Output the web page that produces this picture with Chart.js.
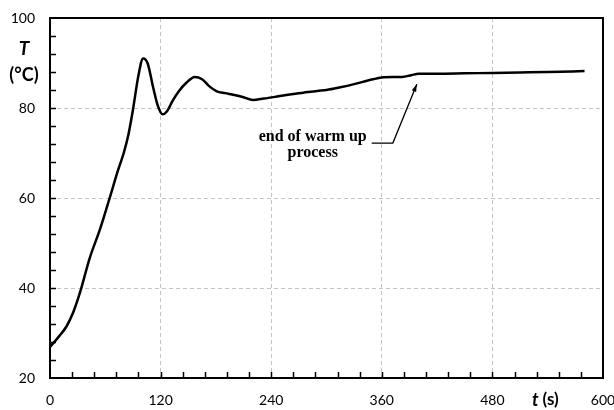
<!DOCTYPE html>
<html>
<head>
<meta charset="utf-8">
<script src="https://cdn.jsdelivr.net/npm/chart.js@4"></script>
<style>
  html, body { margin: 0; padding: 0; background: #fff; }
  #wrap { width: 614px; height: 410px; }
</style>
</head>
<body>
<div id="wrap"><canvas id="chart" width="614" height="410"></canvas></div>
<script>
// time (s) and temperature (°C)
const times = [0, 10, 18, 25, 33, 43, 54, 64, 74, 80, 85, 90, 96, 101, 106, 112, 117, 122, 127,
  133, 140, 148, 157, 165, 173, 181, 190, 200, 210, 220, 232, 245, 260, 275, 290, 300, 315,
  330, 345, 360, 372, 382, 392, 400, 420, 450, 480, 510, 540, 580];
const temps = [26.9, 29.3, 31.5, 34.5, 39.3, 46.6, 52.9, 59.5, 66.3, 70.0, 74.0, 79.6, 87.3, 91.0,
  89.9, 84.5, 80.5, 78.6, 79.3, 81.6, 83.8, 85.6, 86.9, 86.4, 84.8, 83.7, 83.3, 82.9, 82.4, 81.8,
  82.1, 82.5, 83.0, 83.4, 83.8, 84.0, 84.6, 85.3, 86.1, 86.8, 86.9, 86.9, 87.3, 87.6, 87.6, 87.7,
  87.8, 87.9, 88.0, 88.2];

const xTickLabels = [0, 120, 240, 360, 480, 600];
const yTickLabels = [20, 40, 60, 80, 100];

// annotation: text and arrow, in data units
const noteLines = ['end of warm up', 'process'];
const noteAt = { t: 285, T: 73.6 };
const arrowPath = [{ t: 349, T: 72.2 }, { t: 372, T: 72.2 }, { t: 398, T: 85.3 }];

const points = times.map((t, i) => ({ x: t, y: temps[i] }));

const gridColor = '#c4c4c4';

const framePlugin = {
  id: 'frame',
  afterDraw(chart) {
    const { ctx, chartArea: a, scales } = chart;
    const xs = scales.x, ys = scales.y;
    ctx.save();

    // minor ticks, pointing inward
    ctx.strokeStyle = '#000';
    ctx.lineWidth = 1.5;
    ctx.beginPath();
    for (let t = 24; t < 600; t += 24) {
      const px = Math.round(xs.getPixelForValue(t)) + 0.5;
      ctx.moveTo(px, a.bottom);
      ctx.lineTo(px, a.bottom - 6);
    }
    for (let v = 24; v < 100; v += 4) {
      const py = Math.round(ys.getPixelForValue(v)) + 0.5;
      ctx.moveTo(a.left, py);
      ctx.lineTo(a.left + 6, py);
    }
    ctx.stroke();

    // box around the plot
    ctx.lineWidth = 2;
    ctx.strokeRect(a.left, a.top, a.right - a.left, a.bottom - a.top);

    // axis titles
    ctx.fillStyle = '#000';
    ctx.textAlign = 'center';
    ctx.textBaseline = 'middle';
    ctx.font = 'italic bold 19px Lato, sans-serif';
    ctx.fillText('T', 24, 49);
    ctx.font = 'bold 18px Lato, sans-serif';
    ctx.fillText('(°C)', 24, 75);

    ctx.textAlign = 'left';
    ctx.font = 'italic bold 18px Lato, sans-serif';
    ctx.fillText('t', 532, 400);
    const tw = ctx.measureText('t ').width;
    ctx.font = 'bold 17px Lato, sans-serif';
    ctx.fillText('(s)', 532 + tw, 400);

    // annotation
    ctx.textAlign = 'center';
    ctx.font = 'bold 16px "Liberation Serif", serif';
    const nx = xs.getPixelForValue(noteAt.t);
    const ny = ys.getPixelForValue(noteAt.T);
    noteLines.forEach((s, i) => ctx.fillText(s, nx, ny + i * 16));

    const pts = arrowPath.map(p => ({ x: xs.getPixelForValue(p.t), y: ys.getPixelForValue(p.T) }));
    ctx.lineWidth = 1.3;
    ctx.beginPath();
    ctx.moveTo(pts[0].x, pts[0].y);
    for (let i = 1; i < pts.length; i++) ctx.lineTo(pts[i].x, pts[i].y);
    ctx.stroke();
    const p1 = pts[pts.length - 2], p2 = pts[pts.length - 1];
    const ang = Math.atan2(p2.y - p1.y, p2.x - p1.x);
    ctx.beginPath();
    ctx.moveTo(p2.x, p2.y);
    ctx.lineTo(p2.x - 8 * Math.cos(ang - 0.3), p2.y - 8 * Math.sin(ang - 0.3));
    ctx.lineTo(p2.x - 8 * Math.cos(ang + 0.3), p2.y - 8 * Math.sin(ang + 0.3));
    ctx.closePath();
    ctx.fill();

    ctx.restore();
  }
};

new Chart(document.getElementById('chart'), {
  type: 'line',
  data: {
    datasets: [{
      data: points,
      borderColor: '#000',
      borderWidth: 2.5,
      pointRadius: 0,
      fill: false,
      cubicInterpolationMode: 'monotone'
    }]
  },
  options: {
    responsive: false,
    animation: false,
    layout: { padding: { left: 0, top: 18, right: 11, bottom: 0 } },
    plugins: { legend: { display: false }, tooltip: { enabled: false } },
    scales: {
      x: {
        type: 'linear',
        min: 0,
        max: 600,
        afterFit: s => { s.height = 32; s.paddingLeft = 0; s.paddingRight = 0; },
        afterBuildTicks: s => { s.ticks = xTickLabels.map(v => ({ value: v })); },
        ticks: {
          autoSkip: false,
          maxRotation: 0,
          padding: 14,
          color: '#000',
          font: { family: 'Lato, sans-serif', size: 14 }
        },
        grid: {
          drawTicks: false,
          lineWidth: 1,
          color: c => (c.tick && c.tick.value > 0 && c.tick.value < 600) ? gridColor : 'rgba(0,0,0,0)'
        },
        border: { display: false, dash: [4, 3] }
      },
      y: {
        min: 20,
        max: 100,
        afterFit: s => { s.width = 50; s.paddingTop = 0; s.paddingBottom = 0; },
        afterBuildTicks: s => { s.ticks = yTickLabels.map(v => ({ value: v })); },
        ticks: {
          autoSkip: false,
          padding: 15,
          color: '#000',
          font: { family: 'Lato, sans-serif', size: 14 }
        },
        grid: {
          drawTicks: false,
          lineWidth: 1,
          color: c => (c.tick && c.tick.value > 20 && c.tick.value < 100) ? gridColor : 'rgba(0,0,0,0)'
        },
        border: { display: false, dash: [4, 3] }
      }
    }
  },
  plugins: [framePlugin]
});
</script>
</body>
</html>
